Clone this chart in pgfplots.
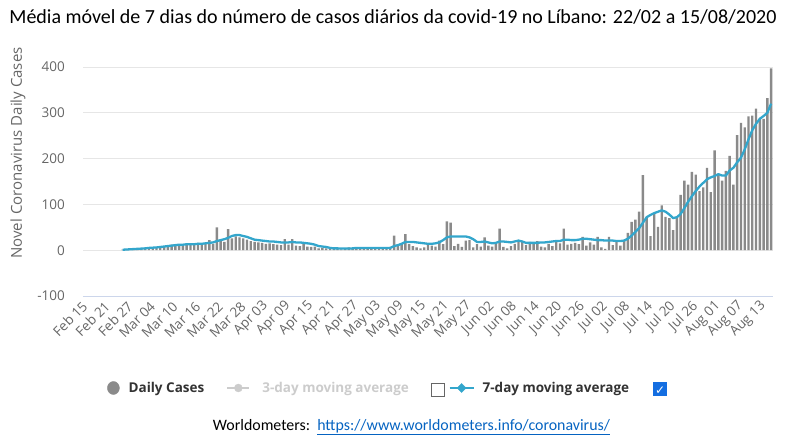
\documentclass[border=0pt]{standalone}
\usepackage{pgfplots}
\pgfplotsset{compat=1.18}
\usepackage{fontspec}
\setmainfont{Open Sans}
\newfontfamily\carlito{Carlito}
\newfontfamily\djv{DejaVu Sans}
\definecolor{barcol}{RGB}{138,138,138}
\definecolor{linecol}{RGB}{51,166,204}
\definecolor{gridcol}{RGB}{230,230,230}
\definecolor{axiscol}{RGB}{204,214,235}
\definecolor{labgray}{RGB}{102,102,102}
\definecolor{legdark}{RGB}{51,51,51}
\definecolor{leglight}{RGB}{204,204,204}
\definecolor{cbblue}{RGB}{20,110,225}
\definecolor{linkblue}{RGB}{5,99,193}
\newcommand{\cbempty}{\raisebox{-4pt}{\setlength{\fboxsep}{0pt}\setlength{\fboxrule}{0.9pt}\textcolor{labgray}{\fbox{\rule{0pt}{12pt}\kern12pt}}}}
\newcommand{\cbchecked}{\raisebox{-4pt}{\setlength{\fboxsep}{0pt}\colorbox{cbblue}{\makebox[14pt][c]{\rule{0pt}{14pt}\raisebox{2pt}{\textcolor{white}{\djv\bfseries\fontsize{12}{12}\selectfont ✓}}}}}}
\begin{document}
\begin{tikzpicture}
\useasboundingbox (-83pt,-145pt) rectangle (704pt,296pt);
\begin{axis}[
  at={(0pt,0pt)}, anchor=south west,
  width=690pt, height=229pt, scale only axis,
  xmin=-0.5, xmax=182.5, ymin=-100, ymax=400,
  axis x line*=bottom, axis y line*=left,
  x axis line style={draw=axiscol, line width=0.8pt, -},
  y axis line style={draw=none},
  major tick length=0pt,
  ymajorgrids, grid style={draw=gridcol, line width=0.8pt},
  ytick={-100,0,100,200,300,400},
  yticklabels={-100,0,100,200,300,400},
  yticklabel style={font=\fontsize{13.5}{15}\selectfont, text=labgray, anchor=east, inner sep=0pt},
  yticklabel shift=18pt,
  xtick={0,6,...,180},
  xticklabels={Feb 15,Feb 21,Feb 27,Mar 04,Mar 10,Mar 16,Mar 22,Mar 28,Apr 03,Apr 09,Apr 15,Apr 21,Apr 27,May 03,May 09,May 15,May 21,May 27,Jun 02,Jun 08,Jun 14,Jun 20,Jun 26,Jul 02,Jul 08,Jul 14,Jul 20,Jul 26,Aug 01,Aug 07,Aug 13},
  xticklabel style={rotate=45, anchor=east, inner sep=0pt, font=\fontsize{13.5}{15}\selectfont, text=labgray},
  xticklabel shift=8pt,
  legend style={at={(0.0348,-0.4017)}, anchor=west, draw=none, fill=none, inner sep=0pt,
     font=\bfseries\fontsize{13.5}{15}\selectfont, text=legdark,
     nodes={inner sep=0pt}, column sep=0pt},
  legend columns=-1,
]
\addplot[ybar, bar width=2.4pt, fill=barcol, draw=none, forget plot] coordinates {
(10,1)(11,1)(13,1)(14,3)(15,3)(16,4)(17,6)(18,5)(19,6)(20,9)(21,7)(22,9)(23,12)(24,11)(25,12)(26,10)(27,13)(28,14)(29,12)(30,16)(31,13)(32,15)(33,22)(34,14)(35,50)(36,20)(37,18)(38,46)(39,26)(40,30)(41,28)(42,26)(43,23)(44,20)(45,18)(46,17)(47,16)(48,14)(49,15)(50,13)(51,12)(52,11)(53,24)(54,12)(55,24)(56,10)(57,9)(58,14)(59,8)(60,7)(61,8)(62,4)(63,5)(64,4)(65,3)(66,3)(67,5)(68,2)(69,3)(70,6)(71,4)(72,5)(73,6)(74,5)(75,4)(76,4)(77,3)(78,5)(79,4)(80,3)(81,7)(82,32)(83,11)(84,13)(85,35)(86,13)(87,9)(88,6)(89,4)(90,6)(91,11)(92,10)(93,8)(94,21)(95,13)(96,63)(97,60)(98,9)(99,14)(100,7)(101,21)(102,22)(103,6)(104,13)(105,8)(106,28)(107,10)(108,8)(109,14)(110,47)(111,7)(112,4)(113,9)(114,14)(115,20)(116,20)(117,11)(118,18)(119,14)(120,20)(121,8)(122,6)(123,14)(124,9)(125,20)(126,15)(127,47)(128,12)(129,14)(130,16)(131,13)(132,29)(133,10)(134,17)(135,12)(136,29)(137,6)(138,3)(139,29)(140,11)(141,18)(142,10)(143,22)(144,38)(145,62)(146,67)(147,84)(148,164)(149,73)(150,31)(151,81)(152,51)(153,98)(154,73)(155,70)(156,44)(157,70)(158,121)(159,152)(160,143)(161,171)(162,165)(163,129)(164,137)(165,180)(166,127)(167,218)(168,165)(169,152)(170,173)(171,206)(172,143)(173,251)(174,278)(175,268)(176,292)(177,294)(178,309)(179,287)(180,287)(181,332)(182,397)
};
\addplot[linecol, line width=2.3pt, no marks, line join=round, forget plot] coordinates {
(10,1)(11,1.5)(12,2)(13,2.5)(14,3)(15,3.5)(16,4)(17,5)(18,5.5)(19,6)(20,7)(21,8)(22,9)(23,10)(24,11)(25,12)(26,12)(27,13)(28,13)(29,13)(30,14)(31,14)(32,15)(33,16)(34,17)(35,20)(36,22)(37,24)(38,27)(39,31)(40,33)(41,33)(42,31)(43,29)(44,26)(45,23)(46,22)(47,21)(48,20)(49,19)(50,19)(51,18)(52,17)(53,17)(54,17)(55,18)(56,17)(57,17)(58,16)(59,15)(60,14)(61,12)(62,9)(63,8)(64,7)(65,5)(66,4)(67,4)(68,3.5)(69,3.5)(70,3.5)(71,4)(72,5)(73,5)(74,5)(75,5)(76,5)(77,5)(78,5)(79,5)(80,5)(81,5)(82,9)(83,11)(84,14)(85,18)(86,18)(87,18)(88,17)(89,16)(90,15)(91,14)(92,14)(93,15)(94,17)(95,22)(96,28)(97,30)(98,30)(99,30)(100,30)(101,30)(102,28)(103,24)(104,18)(105,18)(106,19)(107,17)(108,15)(109,16)(110,19)(111,19)(112,18)(113,17)(114,19)(115,21)(116,19)(117,16)(118,16)(119,16)(120,16)(121,17)(122,17)(123,18)(124,19)(125,20)(126,20)(127,23)(128,23)(129,22)(130,22)(131,23)(132,25)(133,25)(134,24)(135,23)(136,22)(137,22)(138,21)(139,21)(140,21)(141,20)(142,20)(143,21)(144,25)(145,32)(146,40)(147,48)(148,60)(149,72)(150,77)(151,81)(152,84)(153,87)(154,84)(155,78)(156,70)(157,72)(158,79)(159,92)(160,106)(161,118)(162,129)(163,139)(164,147)(165,155)(166,159)(167,162)(168,166)(169,163)(170,163)(171,174)(172,180)(173,192)(174,202)(175,220)(176,242)(177,262)(178,276)(179,287)(180,293)(181,300)(182,320)
};
\addlegendimage{legend image code/.code={\fill[barcol] (6pt,0pt) ellipse (6pt and 6.5pt);}}
\addlegendentry{\kern9pt Daily Cases\kern22pt}
\addlegendimage{legend image code/.code={\draw[leglight, line width=2pt] (0pt,0pt) -- (22pt,0pt); \fill[leglight] (11pt,0pt) circle (4pt);}}
\addlegendentry{\kern12pt\textcolor{leglight}{3-day moving average}\kern22pt\cbempty\kern4pt}
\addlegendimage{legend image code/.code={\draw[linecol, line width=2pt] (0pt,0pt) -- (24pt,0pt); \fill[linecol] (12pt,4.5pt) -- (16.5pt,0pt) -- (12pt,-4.5pt) -- (7.5pt,0pt) -- cycle;}}
\addlegendentry{\kern8pt 7-day moving average\kern24pt\cbchecked}
\end{axis}
\node[rotate=90, text=labgray, font=\fontsize{15}{17}\selectfont] at (-65pt,143pt) {Novel Coronavirus Daily Cases};
\node[font=\carlito\fontsize{20}{22}\selectfont, text=black] at (310pt,279pt) {Média móvel de 7 dias do número de casos diários da covid-19 no Líbano: 22/02 a 15/08/2020};
\node[font=\carlito\fontsize{15.9}{18}\selectfont, text=black] at (328.5pt,-131pt) {Worldometers:\ \ \textcolor{linkblue}{\underline{https://www.worldometers.info/coronavirus/}}};
\end{tikzpicture}
\end{document}
